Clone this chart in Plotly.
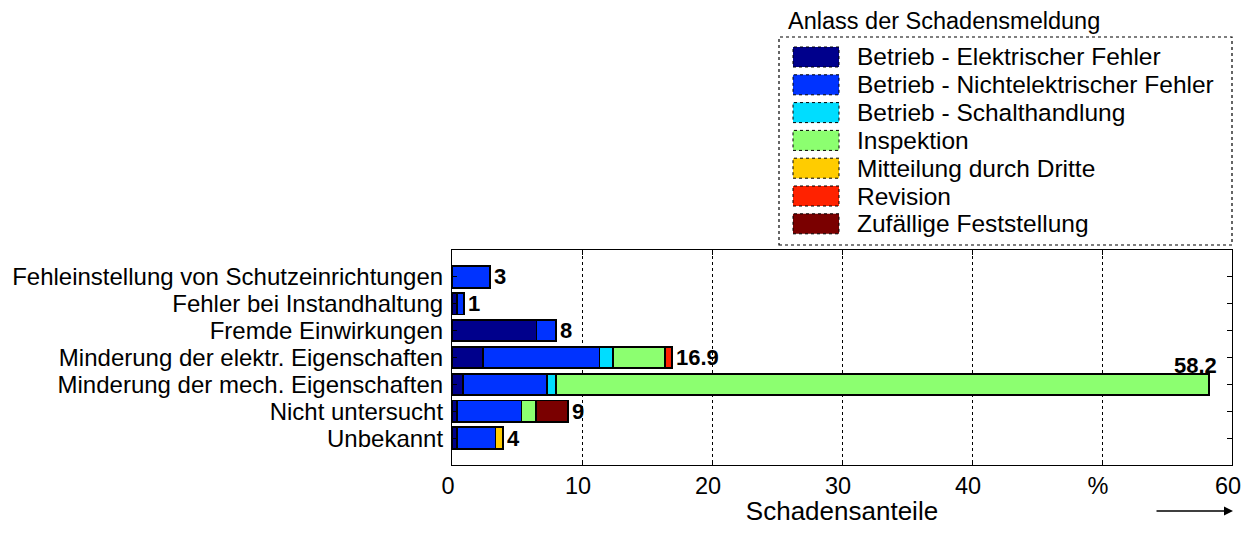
import plotly.graph_objects as go

categories = [
    "Fehleinstellung von Schutzeinrichtungen",
    "Fehler bei Instandhaltung",
    "Fremde Einwirkungen",
    "Minderung der elektr. Eigenschaften",
    "Minderung der mech. Eigenschaften",
    "Nicht untersucht",
    "Unbekannt",
]

series_names = [
    "Betrieb - Elektrischer Fehler",
    "Betrieb - Nichtelektrischer Fehler",
    "Betrieb - Schalthandlung",
    "Inspektion",
    "Mitteilung durch Dritte",
    "Revision",
    "Zufällige Feststellung",
]

elektrisch = [0, 0.4, 6.5, 2.4, 0.85, 0.4, 0.4]
nichtelektrisch = [2.9, 0.5, 1.5, 8.95, 6.45, 4.95, 2.95]
schalthandlung = [0, 0, 0, 1.05, 0.7, 0, 0]
inspektion = [0, 0, 0, 4.0, 50.2, 1.1, 0]
mitteilung = [0, 0, 0, 0, 0, 0, 0.6]
revision = [0, 0, 0, 0.5, 0, 0, 0]
zufaellig = [0, 0, 0, 0, 0, 2.5, 0]

bar_labels = ["3", "1", "8", "16.9", "58.2", "9", "4"]

x_tickvals = [0, 10, 20, 30, 40, 50, 60]
x_ticktext = ["0", "10", "20", "30", "40", "%", "60"]

colors = ["#00008C", "#0033FF", "#00DDFF", "#8CFF70", "#FFCC00", "#FF2200", "#7A0000"]

series_values = [elektrisch, nichtelektrisch, schalthandlung, inspektion,
                 mitteilung, revision, zufaellig]

FONT = "Arial, Liberation Sans, sans-serif"
FS = 23.5
FS_Y = 24
FS_LEG = 24.5

fig = go.Figure()
for name, vals, col in zip(series_names, series_values, colors):
    fig.add_trace(go.Bar(
        y=categories,
        x=[v if v > 0 else None for v in vals],
        name=name,
        orientation="h",
        width=0.8,
        marker=dict(color=col, line=dict(color="black", width=1.8)),
        showlegend=False,
        hoverinfo="x+name",
    ))

# plot area in reference px (page has an 8px body margin on every side)
L, R, T, B = 452, 1232, 250, 465
OFF = 8
W, H = 1249 - 2 * OFF, 534 - 2 * OFF


def px_x(px):
    return (px - L) / (R - L)


def px_y(py):
    return (B - py) / (B - T)


# value labels
totals = [sum(s[i] for s in series_values) for i in range(len(categories))]
annotations = []
for cat, tot, lab in zip(categories, totals, bar_labels):
    if tot > 55:
        annotations.append(dict(x=tot, y=cat, xref="x", yref="y", text=lab,
                                showarrow=False, xanchor="right", yanchor="middle",
                                xshift=10, yshift=19,
                                font=dict(family=FONT, size=22, color="black", weight="bold")))
    else:
        annotations.append(dict(x=tot, y=cat, xref="x", yref="y", text=lab,
                                showarrow=False, xanchor="left", yanchor="middle",
                                xshift=2,
                                font=dict(family=FONT, size=22, color="black", weight="bold")))

# legend (drawn)
shapes = []
shapes.append(dict(type="rect", xref="paper", yref="paper",
                   x0=px_x(779), x1=px_x(1232), y0=px_y(245), y1=px_y(37),
                   line=dict(color="black", width=1.2, dash="dot"), fillcolor="white"))
annotations.append(dict(x=px_x(786), y=px_y(21), xref="paper", yref="paper",
                        text="Anlass der Schadensmeldung", showarrow=False,
                        xanchor="left", yanchor="middle",
                        font=dict(family=FONT, size=FS, color="black")))
for i, (name, col) in enumerate(zip(series_names, colors)):
    cy = 57 + 27.8 * i
    shapes.append(dict(type="rect", xref="paper", yref="paper",
                       x0=px_x(793), x1=px_x(839), y0=px_y(cy + 10), y1=px_y(cy - 10),
                       line=dict(color="black", width=1, dash="dot"), fillcolor=col))
    annotations.append(dict(x=px_x(855), y=px_y(cy), xref="paper", yref="paper",
                            text=name, showarrow=False, xanchor="left", yanchor="middle",
                            font=dict(family=FONT, size=FS_LEG, color="black")))

# arrow under axis
annotations.append(dict(x=px_x(1233), y=px_y(511), ax=-78, ay=0,
                        xref="paper", yref="paper", axref="pixel", ayref="pixel",
                        text="", showarrow=True, arrowhead=2, arrowsize=1.2,
                        arrowwidth=1.5, arrowcolor="black"))

fig.update_layout(
    barmode="stack",
    width=W, height=H,
    autosize=False,
    margin=dict(l=L - OFF, r=(1249 - OFF) - R, t=T - OFF, b=(534 - OFF) - B, autoexpand=False),
    plot_bgcolor="white",
    paper_bgcolor="white",
    font=dict(family=FONT, size=FS, color="black"),
    shapes=shapes,
    annotations=annotations,
    xaxis=dict(
        range=[0, 60],
        automargin=False,
        tickmode="array",
        tickvals=x_tickvals,
        ticktext=x_ticktext,
        ticklabeloverflow="allow",
        ticklabelshift=-4,
        showgrid=True, gridcolor="black", griddash="dot", gridwidth=1,
        showline=True, linecolor="black", linewidth=1.2, mirror="ticks",
        ticks="inside", ticklen=5, tickcolor="black",
        zeroline=False,
        title=dict(text="Schadensanteile", standoff=9,
                   font=dict(family=FONT, size=26, color="black")),
        tickfont=dict(family=FONT, size=FS, color="black"),
    ),
    yaxis=dict(
        type="category",
        automargin=False,
        categoryorder="array", categoryarray=categories,
        tickmode="array", tickvals=categories, ticktext=categories,
        range=[7, -1],
        showgrid=False,
        showline=True, linecolor="black", linewidth=1.2, mirror="ticks",
        ticks="inside", ticklen=5, tickcolor="black",
        tickfont=dict(family=FONT, size=FS_Y, color="black"),
        ticklabelstandoff=3,
    ),
)

fig.write_html("out.html")
